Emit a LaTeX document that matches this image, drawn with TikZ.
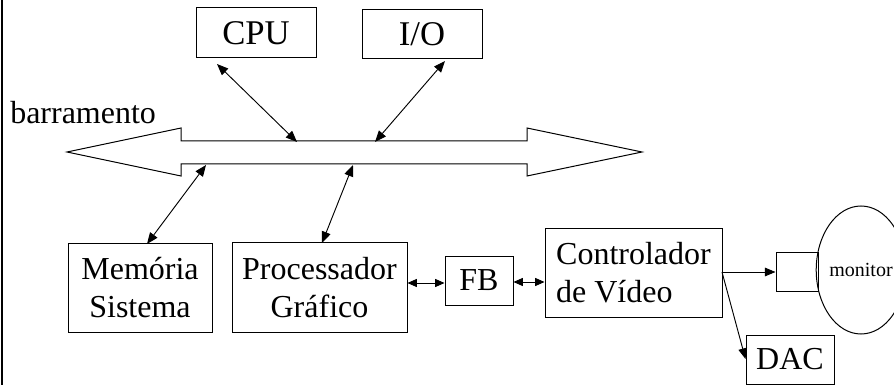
\documentclass[tikz,border=0pt]{standalone}
\usepackage{fontspec}
\setmainfont{Liberation Serif}
\usetikzlibrary{arrows.meta,shapes.geometric}
\tikzset{
  box/.style={draw,line width=0.75pt,rectangle,inner sep=0pt,align=center,font=\fontsize{24}{28.5}\selectfont},
  bigbox/.style={box,font=\fontsize{26}{30}\selectfont},
  conn/.style={line width=0.7pt,{Triangle[length=8.5pt,width=6.8pt]}-{Triangle[length=8.5pt,width=6.8pt]}},
  connsm/.style={line width=0.7pt,{Triangle[length=7pt,width=6pt]}-{Triangle[length=7pt,width=6pt]}},
  conn1/.style={line width=0.7pt,-{Triangle[length=8pt,width=6.5pt]}},
}
\begin{document}
\begin{tikzpicture}[x=0.75pt,y=-0.75pt]
\useasboundingbox (0,0) rectangle (894,385);
\clip (0,0) rectangle (894,385);
\draw[line width=1pt] (2,0) -- (2,385);
% bus
\draw[line width=0.75pt] (67,152) -- (181,128) -- (181,141) -- (527,141) -- (527,128) -- (642,152) -- (527,176) -- (527,164) -- (181,164) -- (181,176) -- cycle;
\node[anchor=base west,inner sep=0pt,font=\fontsize{24}{28.5}\selectfont] (lbl) at (10,124) {barramento};
\coordinate (bCPU) at (297,142);
\coordinate (bIO) at (375,142);
\coordinate (bMem) at (206,165);
\coordinate (bProc) at (353,165);
% boxes
\node[bigbox,minimum width=90pt,minimum height=37.5pt] (cpu) at (256,33) {CPU};
\node[bigbox,minimum width=90pt,minimum height=36.75pt] (io) at (422,34.5) {I/O};
\node[box,minimum width=108pt,minimum height=66pt] (mem) at (140,288) {Memória\\Sistema};
\node[box,minimum width=131.25pt,minimum height=66.75pt] (proc) at (319.5,287.5) {Processador\\Gráfico};
\node[box,minimum width=51pt,minimum height=36.75pt] (fb) at (479,280.5) {FB};
\node[box,align=left,minimum width=132.75pt,minimum height=66pt] (ctrl) at (633.5,273) {Controlador\\de Vídeo};
\node[box,minimum width=31.5pt,minimum height=29.25pt] (conv) at (797,271.5) {};
\node[box,minimum width=66pt,minimum height=36.75pt] (dac) at (790,359.5) {DAC};
\node[draw,line width=0.75pt,ellipse,inner sep=0pt,minimum width=64.5pt,minimum height=96pt,font=\fontsize{15}{18}\selectfont] (mon) at (861,270) {monitor};
% connector ends
\coordinate (cpuA) at (217,64);
\coordinate (ioA) at (445,61);
\coordinate (memA) at (147,244);
\coordinate (procA) at (322,243);
\coordinate (ctrlOut) at (722,272);
\coordinate (dacIn) at (745.5,359);
% connectors
\draw[conn] (cpuA) -- (bCPU);
\draw[conn] (ioA) -- (bIO);
\draw[conn] (bMem) -- (memA);
\draw[conn] (bProc) -- (procA);
\draw[connsm] (proc.east |- 0,283) -- (fb.west |- 0,283);
\draw[connsm] (fb.east |- 0,282) -- (ctrl.west |- 0,282);
\draw[conn1] (ctrlOut) -- (conv.west |- ctrlOut);
\draw[conn1] (ctrlOut) -- (dacIn);
\end{tikzpicture}
\end{document}
